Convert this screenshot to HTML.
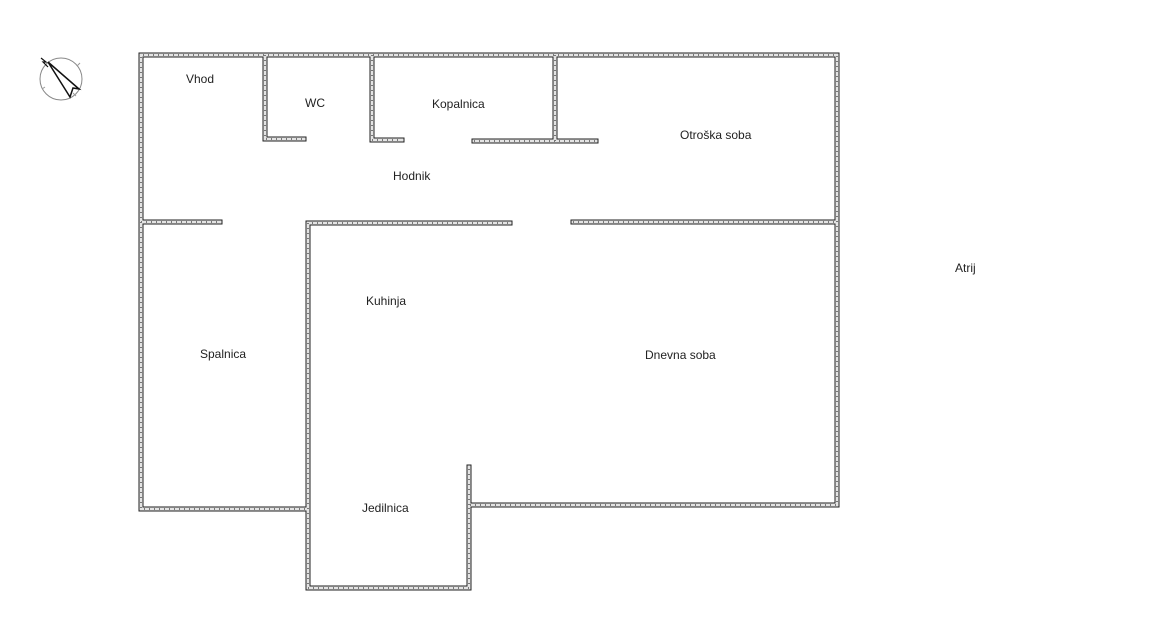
<!DOCTYPE html>
<html><head><meta charset="utf-8"><style>
html,body{margin:0;padding:0;background:#fff;}
svg{display:block;}
text{font-family:"Liberation Sans",sans-serif;font-size:12px;fill:#222;}
.w{fill:none;stroke:#222;stroke-width:5;stroke-linecap:square;stroke-linejoin:miter;}
.i{fill:none;stroke:#e4e4e4;stroke-width:3;stroke-linecap:square;stroke-linejoin:miter;}
.h{fill:none;stroke:#777;stroke-width:2;stroke-dasharray:1 4;stroke-linejoin:miter;}
</style></head><body>
<svg width="1149" height="621" viewBox="0 0 1149 621" xmlns="http://www.w3.org/2000/svg">
<defs>
<g id="walls">
<polyline points="305,509 141,509 141,55 837,55 837,505 469,505 469,588 308,588 308,223 510,223"/>
<polyline points="141,222 220,222"/>
<polyline points="573,222 837,222"/>
<polyline points="469,505 469,467"/>
<polyline points="265,55 265,139 304,139"/>
<polyline points="372,55 372,140 402,140"/>
<polyline points="474,141 596,141"/>
<polyline points="555,55 555,141"/>
</g>
</defs>
<use href="#walls" class="w"/>
<use href="#walls" class="i"/>
<use href="#walls" class="h"/>
<!-- compass -->
<circle cx="61" cy="79" r="21" fill="none" stroke="#888" stroke-width="1"/>
<line x1="42" y1="89" x2="45" y2="87" stroke="#999"/>
<line x1="77" y1="66" x2="80" y2="63" stroke="#999"/>
<line x1="73" y1="93" x2="76" y2="96" stroke="#999"/>
<polygon points="48,62 79,89 73,88 70,97" fill="#fff" stroke="#111" stroke-width="1.5"/>
<polyline points="41,58 46,62 43,62 48,67" fill="none" stroke="#111" stroke-width="1.2"/>
<text x="186" y="83">Vhod</text>
<text x="305" y="107">WC</text>
<text x="432" y="108">Kopalnica</text>
<text x="680" y="139">Otroška soba</text>
<text x="393" y="180">Hodnik</text>
<text x="366" y="305">Kuhinja</text>
<text x="200" y="358">Spalnica</text>
<text x="645" y="359">Dnevna soba</text>
<text x="955" y="272">Atrij</text>
<text x="362" y="512">Jedilnica</text>
</svg>
</body></html>
